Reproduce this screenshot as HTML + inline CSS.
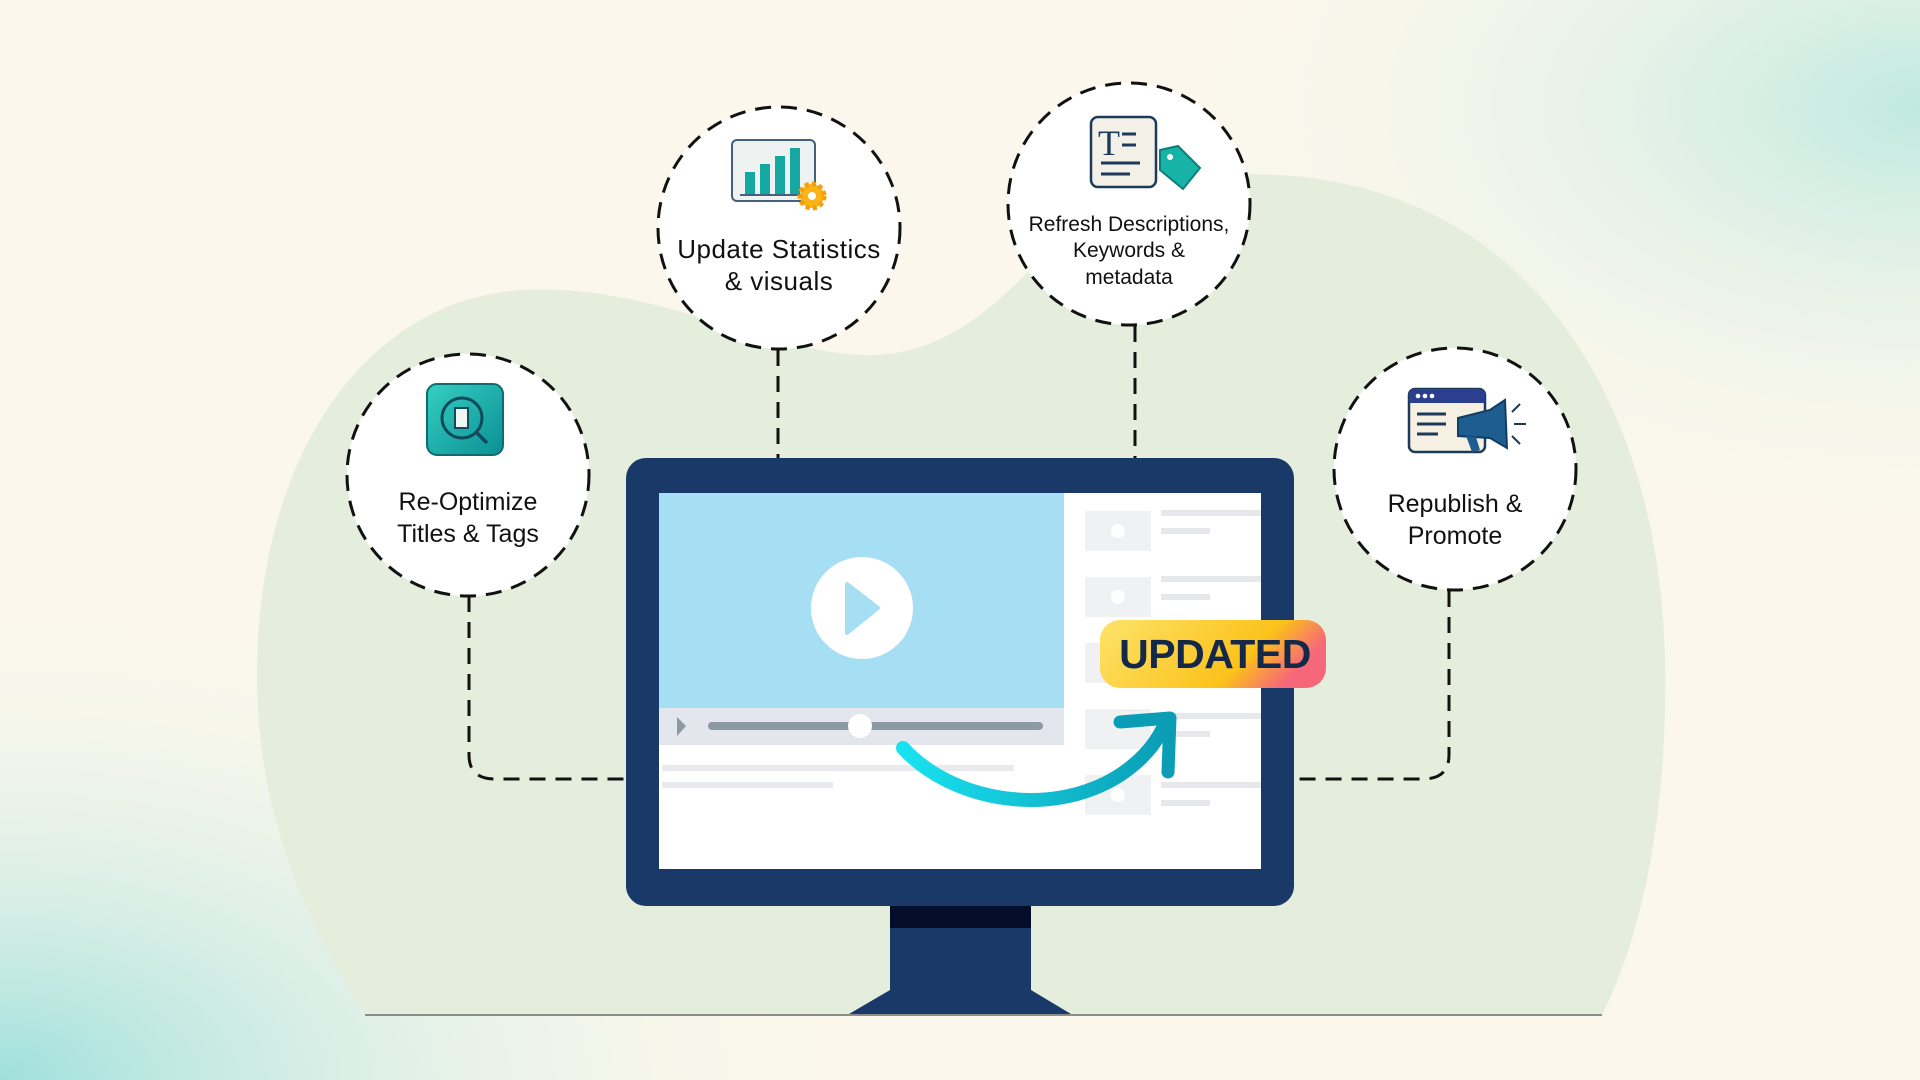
<!DOCTYPE html>
<html><head><meta charset="utf-8"><style>
html,body{margin:0;padding:0;width:1920px;height:1080px;overflow:hidden;background:#fbf7ec}
svg{display:block}
text{font-family:"Liberation Sans","DejaVu Sans",sans-serif;fill:#111}
</style></head><body>
<svg width="1920" height="1080" viewBox="0 0 1920 1080" xmlns="http://www.w3.org/2000/svg">
<defs>
<radialGradient id="bl" cx="0" cy="1" r="0.45"><stop offset="0" stop-color="#9fe0dc"/><stop offset="1" stop-color="#fbf7ec" stop-opacity="0"/></radialGradient>
<radialGradient id="tr" cx="1" cy="0.1" r="0.4"><stop offset="0" stop-color="#bfe9e0"/><stop offset="1" stop-color="#fbf7ec" stop-opacity="0"/></radialGradient>
<linearGradient id="badge" x1="0" y1="0" x2="1" y2="0.3"><stop offset="0" stop-color="#fde36b"/><stop offset="0.75" stop-color="#fbc21a"/><stop offset="1" stop-color="#f7677a"/></linearGradient>
<linearGradient id="arr" x1="0" y1="0" x2="1" y2="0"><stop offset="0" stop-color="#19e2f0"/><stop offset="1" stop-color="#0a9db5"/></linearGradient>
<linearGradient id="teal" x1="0" y1="0" x2="1" y2="1"><stop offset="0" stop-color="#35cfc1"/><stop offset="1" stop-color="#0b8f95"/></linearGradient>
</defs>
<rect width="1920" height="1080" fill="#fbf7ec"/>
<rect width="1920" height="1080" fill="url(#bl)"/>
<rect width="1920" height="1080" fill="url(#tr)"/>
<!-- green blob -->
<path d="M365 1015 C290 900 250 780 258 640 C270 430 380 300 520 290 C650 282 760 350 860 355 C950 358 1000 300 1060 240 C1140 170 1280 155 1400 200 C1560 260 1660 430 1665 660 C1668 820 1640 940 1602 1015 Z" fill="#e5eedd"/>
<line x1="365" y1="1015" x2="1602" y2="1015" stroke="#8a8f8a" stroke-width="2"/>

<!-- connectors -->
<g fill="none" stroke="#111" stroke-width="3" stroke-dasharray="16 10">
<line x1="778" y1="350" x2="778" y2="458"/>
<line x1="1135" y1="326" x2="1135" y2="458"/>
<path d="M469 596 L469 755 Q469 779 495 779 L626 779"/>
<path d="M1449 591 L1449 755 Q1449 779 1423 779 L1294 779"/>
</g>

<!-- circles -->
<g fill="#fff" stroke="#111" stroke-width="3" stroke-dasharray="16 10">
<circle cx="468" cy="475" r="121"/>
<circle cx="779" cy="228" r="121"/>
<circle cx="1129" cy="204" r="121"/>
<circle cx="1455" cy="469" r="121"/>
</g>

<!-- icon 1 -->
<rect x="427" y="384" width="76" height="71" rx="10" fill="url(#teal)" stroke="#0d6b72" stroke-width="2"/>
<circle cx="462" cy="418" r="20" fill="none" stroke="#0f4a5a" stroke-width="3"/>
<line x1="476" y1="432" x2="487" y2="443" stroke="#0f4a5a" stroke-width="3.5"/>
<rect x="455" y="408" width="13" height="20" fill="#eef7f2" stroke="#0f4a5a" stroke-width="2"/>
<text x="468" y="510" font-size="25" text-anchor="middle">Re-Optimize</text>
<text x="468" y="542" font-size="25" text-anchor="middle">Titles &amp; Tags</text>

<!-- icon 2 -->
<rect x="732" y="140" width="83" height="61" rx="5" fill="#eef3f1" stroke="#44607a" stroke-width="2"/>
<rect x="745" y="172" width="10" height="22" fill="#14a8a0"/>
<rect x="760" y="164" width="10" height="30" fill="#14a8a0"/>
<rect x="775" y="156" width="10" height="38" fill="#14a8a0"/>
<rect x="790" y="148" width="10" height="46" fill="#14a8a0"/>
<line x1="740" y1="195" x2="805" y2="195" stroke="#44607a" stroke-width="2"/>
<circle cx="812" cy="196" r="12" fill="#fbb415" stroke="#f59e0b" stroke-width="5" stroke-dasharray="4 3"/>
<circle cx="812" cy="196" r="4" fill="#fff"/>
<text x="779" y="258" font-size="26" text-anchor="middle" letter-spacing="0.5">Update Statistics</text>
<text x="779" y="290" font-size="26" text-anchor="middle" letter-spacing="0.5">&amp; visuals</text>

<!-- icon 3 -->
<rect x="1091" y="117" width="65" height="70" rx="7" fill="#f3f1e7" stroke="#1d3a5c" stroke-width="2.5"/>
<text x="1098" y="155" font-size="36" font-family="Liberation Serif,serif" fill="#1d3a5c" style="fill:#1d3a5c;font-family:'Liberation Serif',serif">T</text>
<line x1="1122" y1="134" x2="1136" y2="134" stroke="#1d3a5c" stroke-width="3"/>
<line x1="1122" y1="145" x2="1136" y2="145" stroke="#1d3a5c" stroke-width="3"/>
<line x1="1101" y1="163" x2="1140" y2="163" stroke="#1d3a5c" stroke-width="3"/>
<line x1="1101" y1="174" x2="1130" y2="174" stroke="#1d3a5c" stroke-width="3"/>
<path d="M1160 150 L1178 146 L1200 168 L1183 189 L1160 170 Z" fill="#17b3a7" stroke="#0c7f7a" stroke-width="2"/>
<circle cx="1170" cy="157" r="3" fill="#fff"/>
<text x="1129" y="231" font-size="21" text-anchor="middle">Refresh Descriptions,</text>
<text x="1129" y="257" font-size="21" text-anchor="middle">Keywords &amp;</text>
<text x="1129" y="284" font-size="21" text-anchor="middle">metadata</text>

<!-- icon 4 -->
<rect x="1409" y="389" width="76" height="63" rx="6" fill="#f5f0e2" stroke="#1d3a5c" stroke-width="2.5"/>
<path d="M1409 403 L1409 395 Q1409 389 1415 389 L1479 389 Q1485 389 1485 395 L1485 403 Z" fill="#2a3f8f"/>
<circle cx="1418" cy="396" r="2.3" fill="#fff"/><circle cx="1425" cy="396" r="2.3" fill="#fff"/><circle cx="1432" cy="396" r="2.3" fill="#fff"/>
<line x1="1417" y1="414" x2="1446" y2="414" stroke="#1d3a5c" stroke-width="3"/>
<line x1="1417" y1="424" x2="1446" y2="424" stroke="#1d3a5c" stroke-width="3"/>
<line x1="1417" y1="434" x2="1438" y2="434" stroke="#1d3a5c" stroke-width="3"/>
<path d="M1458 418 L1490 410 L1505 400 L1507 448 L1490 438 L1458 436 Z" fill="#1e5d8f" stroke="#123e66" stroke-width="2"/>
<path d="M1466 436 L1472 452 L1480 450 L1476 437 Z" fill="#1e5d8f"/>
<line x1="1512" y1="412" x2="1520" y2="404" stroke="#1d3a5c" stroke-width="2"/>
<line x1="1514" y1="424" x2="1526" y2="424" stroke="#1d3a5c" stroke-width="2"/>
<line x1="1512" y1="436" x2="1520" y2="444" stroke="#1d3a5c" stroke-width="2"/>
<text x="1455" y="512" font-size="25" text-anchor="middle">Republish &amp;</text>
<text x="1455" y="544" font-size="25" text-anchor="middle">Promote</text>

<!-- monitor -->
<path d="M890 906 L1031 906 L1031 990 L1071 1014 L849 1014 L890 990 Z" fill="#193a68"/>
<rect x="890" y="906" width="141" height="22" fill="#050d2a"/>
<rect x="626" y="458" width="668" height="448" rx="20" fill="#193a68"/>
<rect x="659" y="493" width="602" height="376" fill="#fff"/>
<rect x="659" y="493" width="405" height="215" fill="#a6dff3"/>
<rect x="659" y="708" width="405" height="37" fill="#e3e6ec"/>
<ellipse cx="862" cy="608" rx="51" ry="51" fill="#fff"/>
<path d="M847 584 L878 608 L847 633 Z" fill="#a6dff3" stroke="#a6dff3" stroke-width="4" stroke-linejoin="round"/>
<path d="M677 717 L686 726 L677 736 Z" fill="#8e99a6"/>
<rect x="708" y="722" width="335" height="8" rx="4" fill="#8e99a6"/>
<circle cx="860" cy="726" r="12" fill="#fff"/>
<rect x="662" y="765" width="352" height="6" fill="#e8eaee"/>
<rect x="662" y="782" width="171" height="6" fill="#e8eaee"/>
<g fill="#f0f1f3">
<rect x="1085" y="511" width="66" height="40"/><rect x="1085" y="577" width="66" height="40"/><rect x="1085" y="643" width="66" height="40"/><rect x="1085" y="709" width="66" height="40"/><rect x="1085" y="775" width="66" height="40"/>
</g>
<g fill="#e6e8ec">
<rect x="1161" y="510" width="100" height="6"/><rect x="1161" y="528" width="49" height="6"/>
<rect x="1161" y="576" width="100" height="6"/><rect x="1161" y="594" width="49" height="6"/>
<rect x="1161" y="642" width="100" height="6"/><rect x="1161" y="660" width="49" height="6"/>
<rect x="1161" y="713" width="100" height="6"/><rect x="1161" y="731" width="49" height="6"/>
<rect x="1161" y="782" width="100" height="6"/><rect x="1161" y="800" width="49" height="6"/>
</g>
<g fill="#fff"><circle cx="1118" cy="531" r="7"/><circle cx="1118" cy="597" r="7"/><circle cx="1118" cy="795" r="7"/></g>

<!-- arrow -->
<path d="M903 748 C950 800 1050 820 1120 775 C1150 755 1160 735 1166 722" fill="none" stroke="url(#arr)" stroke-width="14" stroke-linecap="round"/>
<path d="M1120 722 L1170 718 L1168 772" fill="none" stroke="#0a9db5" stroke-width="13" stroke-linecap="round" stroke-linejoin="round"/>

<!-- badge -->
<rect x="1100" y="620" width="226" height="68" rx="20" fill="url(#badge)"/>
<text x="1215" y="668" font-size="41" font-weight="bold" text-anchor="middle" style="fill:#13284a" letter-spacing="-0.5">UPDATED</text>
</svg>
</body></html>
